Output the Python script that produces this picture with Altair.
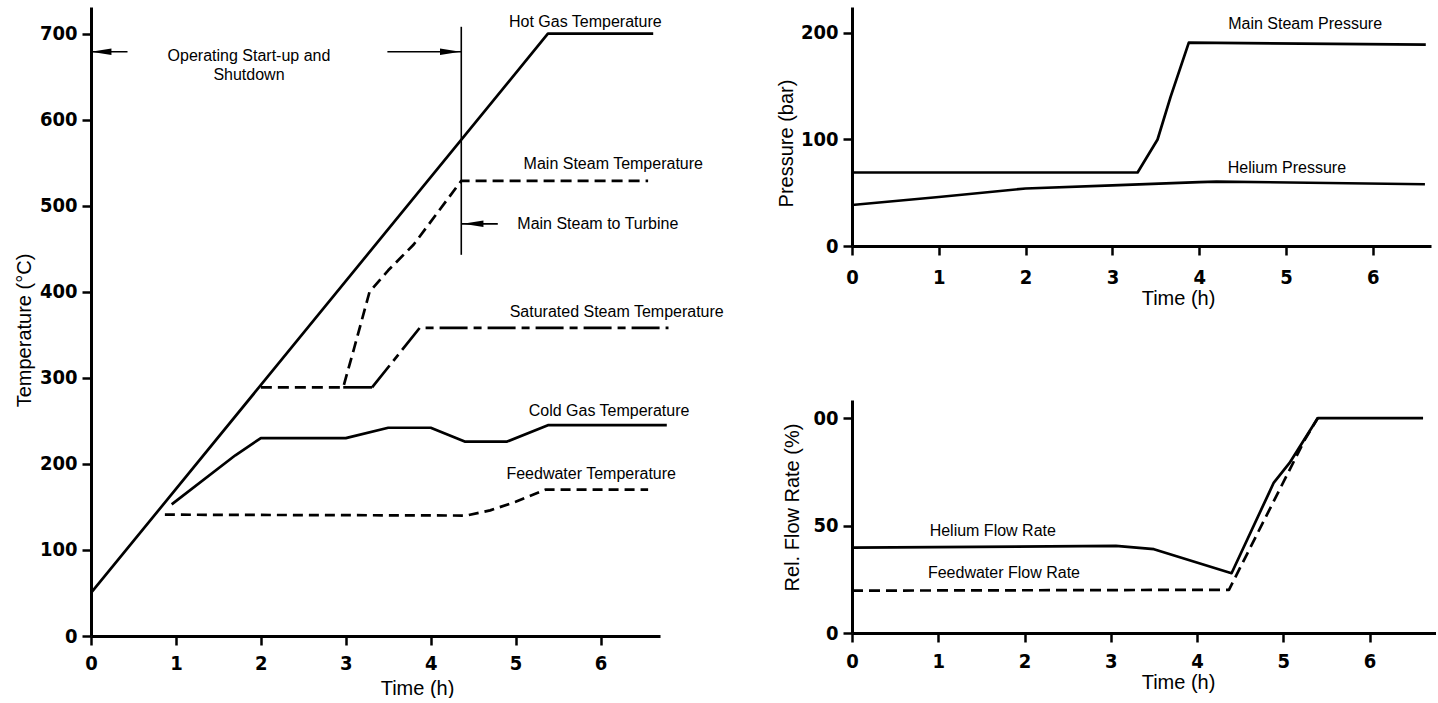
import altair as alt
import pandas as pd

# ---------------- Temperature panel (time in h, temperature in °C) ----------------
HOT_GAS_T = [0.0, 5.38, 6.62]
HOT_GAS_V = [50, 700, 700]

MAIN_STEAM_T = [2.0, 2.97, 3.1, 3.28, 3.5, 3.8, 4.36, 6.56]
MAIN_STEAM_V = [289, 289, 335, 400, 425, 455, 529, 529]

SAT_STEAM_HOLD_T = [2.97, 3.31]
SAT_STEAM_HOLD_V = [289, 289]
SAT_STEAM_T = [3.31, 3.87, 6.8]
SAT_STEAM_V = [289, 358, 358]

COLD_GAS_T = [0.95, 1.7, 2.0, 3.0, 3.5, 4.0, 4.4, 4.9, 5.38, 6.78]
COLD_GAS_V = [153, 210, 230, 230, 242, 242, 226, 226, 245, 245]

FEEDWATER_T = [0.87, 4.42, 4.7, 5.0, 5.35, 6.56]
FEEDWATER_V = [141, 140, 146, 156, 170, 170]

# steam-to-turbine marker (time) and its vertical extent (°C)
TURBINE_T = 4.36
TURBINE_V = [443, 708]

# ---------------- Pressure panel (bar) ----------------
MS_PRESS_T = [0.0, 3.29, 3.52, 3.67, 3.88, 6.61]
MS_PRESS_V = [69, 69, 100, 140, 191, 189]

HE_PRESS_T = [0.0, 1.0, 2.0, 3.0, 4.0, 4.2, 6.6]
HE_PRESS_V = [38.5, 46, 54, 57, 60, 60.5, 58]

# ---------------- Flow rate panel (%) ----------------
HE_FLOW_T = [0.0, 3.06, 3.5, 4.4, 4.89, 5.07, 5.4, 6.62]
HE_FLOW_V = [39.7, 40.5, 39, 27.8, 70, 79, 100, 100]

FW_FLOW_T = [0.0, 4.37, 4.86, 5.25, 5.4]
FW_FLOW_V = [19.7, 20.1, 59, 90, 100]

# ---------------- Tick values ----------------
HOURS = [0, 1, 2, 3, 4, 5, 6]
TEMP_TICKS = [0, 100, 200, 300, 400, 500, 600, 700]
PRESS_TICKS = [0, 100, 200]
FLOW_TICKS = [0, 50, 100]

# ---------------- Curve labels ----------------
TEMP_LABELS = ["Hot Gas Temperature", "Main Steam Temperature", "Saturated Steam Temperature",
               "Cold Gas Temperature", "Feedwater Temperature",
               "Operating Start-up and", "Shutdown"]
TEMP_LABEL_T = [5.82, 6.15, 6.19, 6.10, 5.89, 1.86, 1.86]
TEMP_LABEL_V = [714, 548, 377, 262, 188, 674, 652]

TURBINE_LABEL = ["Main Steam to Turbine"]
TURBINE_LABEL_T = [5.02]
TURBINE_LABEL_V = [479]

PRESS_LABELS = ["Main Steam Pressure", "Helium Pressure"]
PRESS_LABEL_T = [5.22, 5.01]
PRESS_LABEL_V = [208, 73]

FLOW_LABELS = ["Helium Flow Rate", "Feedwater Flow Rate"]
FLOW_LABEL_T = [0.90, 0.88]
FLOW_LABEL_V = [47.4, 27.9]

INK = "black"
LABEL_FONT = "Liberation Sans"
TICK_FONT = "DejaVu Sans Condensed"


def frame(ts, vs):
    return pd.DataFrame({"t": ts, "v": vs})


def encodings(x_max, y_max, y_ticks, y_title, x_title_pos, y_title_pos, x_pad, label_expr=None):
    x_axis = alt.Axis(values=HOURS, title="Time (h)", titleX=x_title_pos[0], titleY=x_title_pos[1],
                      titleBaseline="middle", titleAlign="center", labelFlush=False,
                      labelPadding=x_pad)
    y_kwargs = dict(values=y_ticks, title=y_title, titleX=y_title_pos[0], titleY=y_title_pos[1],
                    titleAngle=270, titleBaseline="middle", titleAlign="center", labelFlush=False,
                    labelPadding=5)
    if label_expr:
        y_kwargs["labelExpr"] = label_expr
    x = alt.X("t:Q", scale=alt.Scale(domain=[0, x_max], nice=False, zero=False), axis=x_axis)
    y = alt.Y("v:Q", scale=alt.Scale(domain=[0, y_max], nice=False, zero=False), axis=alt.Axis(**y_kwargs))
    return x, y


def curve(df, x, y, dash=None):
    kw = dict(color=INK, strokeWidth=2.7, strokeCap="butt", strokeJoin="round")
    if dash:
        kw["strokeDash"] = dash
    return alt.Chart(df).mark_line(**kw).encode(x=x, y=y)


def labels(names, ts, vs, x, y, align="center"):
    df = pd.DataFrame({"label": names, "t": ts, "v": vs})
    return alt.Chart(df).mark_text(font=LABEL_FONT, fontSize=16, color=INK, align=align,
                                   baseline="middle").encode(x=x, y=y, text="label:N")


# ---------------- Left: temperatures ----------------
xT, yT = encodings(6.70, 731, TEMP_TICKS, "Temperature (°C)", (326, 52), (-67, 323), 8)

arrow_rules = pd.DataFrame({"t": [0.0, 3.49, TURBINE_T], "t2": [0.43, TURBINE_T, 4.79],
                            "v": [679, 679, 479]})
heads = pd.DataFrame({"t": [0.12, 4.23, 4.5], "v": [679, 679, 479],
                      "dir": ["left", "right", "left"]})
LEFT_HEAD = "M -1 0 L 1 -0.32 L 1 0.32 Z"
RIGHT_HEAD = "M 1 0 L -1 -0.32 L -1 0.32 Z"

marker = pd.DataFrame({"t": [TURBINE_T], "v": [TURBINE_V[0]], "v2": [TURBINE_V[1]]})

temp_chart = alt.layer(
    curve(frame(HOT_GAS_T, HOT_GAS_V), xT, yT),
    curve(frame(MAIN_STEAM_T, MAIN_STEAM_V), xT, yT, [11, 6]),
    curve(frame(SAT_STEAM_HOLD_T, SAT_STEAM_HOLD_V), xT, yT),
    curve(frame(SAT_STEAM_T, SAT_STEAM_V), xT, yT, [28, 6, 8, 6]),
    curve(frame(COLD_GAS_T, COLD_GAS_V), xT, yT),
    curve(frame(FEEDWATER_T, FEEDWATER_V), xT, yT, [10, 6]),
    alt.Chart(marker).mark_rule(color=INK, strokeWidth=1.6).encode(x=xT, y=yT, y2="v2:Q"),
    alt.Chart(arrow_rules).mark_rule(color=INK, strokeWidth=1.6).encode(x=xT, x2="t2:Q", y=yT),
    alt.Chart(heads).transform_filter(alt.datum.dir == "left").mark_point(
        shape=LEFT_HEAD, size=420, filled=True, color=INK, opacity=1).encode(x=xT, y=yT),
    alt.Chart(heads).transform_filter(alt.datum.dir == "right").mark_point(
        shape=RIGHT_HEAD, size=420, filled=True, color=INK, opacity=1).encode(x=xT, y=yT),
    labels(TEMP_LABELS, TEMP_LABEL_T, TEMP_LABEL_V, xT, yT),
    labels(TURBINE_LABEL, TURBINE_LABEL_T, TURBINE_LABEL_V, xT, yT, align="left"),
).properties(width=569, height=629)

# ---------------- Right top: pressures ----------------
xP, yP = encodings(6.67, 224.4, PRESS_TICKS, "Pressure (bar)", (326, 52), (-66, 136), 12)
press_chart = alt.layer(
    curve(frame(MS_PRESS_T, MS_PRESS_V), xP, yP),
    curve(frame(HE_PRESS_T, HE_PRESS_V), xP, yP),
    labels(PRESS_LABELS, PRESS_LABEL_T, PRESS_LABEL_V, xP, yP),
).properties(width=579, height=239)

# ---------------- Right bottom: flow rates ----------------
xF, yF = encodings(6.77, 108.4, FLOW_TICKS, "Rel. Flow Rate (%)", (326, 49), (-60, 107), 9,
                   label_expr="datum.value == 100 ? '00' : datum.label")
flow_chart = alt.layer(
    curve(frame(HE_FLOW_T, HE_FLOW_V), xF, yF),
    curve(frame(FW_FLOW_T, FW_FLOW_V), xF, yF, [11, 6]),
    labels(FLOW_LABELS, FLOW_LABEL_T, FLOW_LABEL_V, xF, yF, align="left"),
).properties(width=584, height=233)

right = alt.vconcat(press_chart, flow_chart, spacing=154, bounds="flush")

chart = (
    alt.hconcat(temp_chart, right, spacing=192, bounds="flush")
    .properties(padding={"left": 14, "top": 7, "right": 0, "bottom": 0}, background="white")
    .configure_view(stroke=None)
    .configure_axis(
        grid=False,
        domainColor=INK, domainWidth=3,
        tickColor=INK, tickWidth=2.5, tickSize=9,
        labelColor=INK, labelFont=TICK_FONT, labelFontSize=20, labelFontWeight="bold",
        titleColor=INK, titleFont=LABEL_FONT, titleFontSize=20, titleFontWeight="normal",
    )
)

chart.save("out.html", embed_options={"renderer": "svg", "actions": False})
